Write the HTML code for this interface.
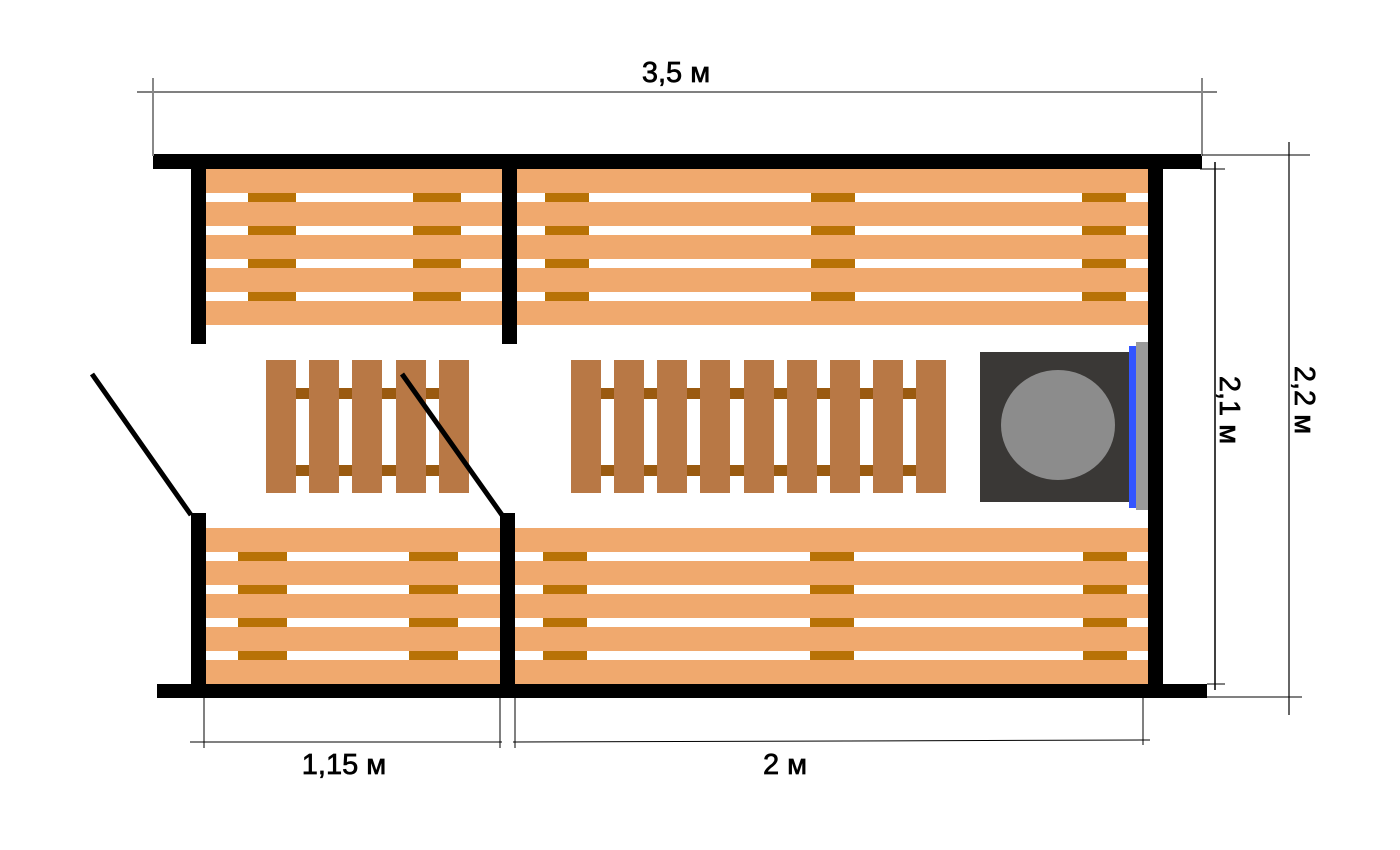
<!DOCTYPE html>
<html><head><meta charset="utf-8"><style>
html,body{margin:0;padding:0;background:#fff;width:1400px;height:850px;overflow:hidden}
text{font-family:"Liberation Sans",sans-serif;font-size:29px;fill:#000;stroke:#000;stroke-width:0.7}
</style></head><body>
<svg width="1400" height="850" viewBox="0 0 1400 850" xmlns="http://www.w3.org/2000/svg">
<g fill="#f0a96e">
<rect x="206" y="169" width="296" height="24"/><rect x="206" y="202" width="296" height="24"/><rect x="206" y="235" width="296" height="24"/><rect x="206" y="268" width="296" height="24"/><rect x="206" y="301" width="296" height="24"/>
<rect x="517" y="169" width="631" height="24"/><rect x="517" y="202" width="631" height="24"/><rect x="517" y="235" width="631" height="24"/><rect x="517" y="268" width="631" height="24"/><rect x="517" y="301" width="631" height="24"/>
<rect x="206" y="528" width="294" height="24"/><rect x="206" y="561" width="294" height="24"/><rect x="206" y="594" width="294" height="24"/><rect x="206" y="627" width="294" height="24"/><rect x="206" y="660" width="294" height="24"/>
<rect x="515" y="528" width="633" height="24"/><rect x="515" y="561" width="633" height="24"/><rect x="515" y="594" width="633" height="24"/><rect x="515" y="627" width="633" height="24"/><rect x="515" y="660" width="633" height="24"/>
</g>
<g fill="#b87206">
<g id="ct"><rect x="248" y="193" width="48" height="9"/><rect x="413" y="193" width="48" height="9"/><rect x="545" y="193" width="44" height="9"/><rect x="811" y="193" width="44" height="9"/><rect x="1082" y="193" width="44" height="9"/></g>
<use href="#ct" y="33"/><use href="#ct" y="66"/><use href="#ct" y="99"/>
<g id="cb"><rect x="238" y="552" width="49" height="9"/><rect x="409" y="552" width="49" height="9"/><rect x="543" y="552" width="44" height="9"/><rect x="810" y="552" width="44" height="9"/><rect x="1083" y="552" width="44" height="9"/></g>
<use href="#cb" y="33"/><use href="#cb" y="66"/><use href="#cb" y="99"/>
</g>
<g fill="#9a5a10">
<rect x="266" y="388" width="203" height="11"/><rect x="266" y="465" width="203" height="11"/>
<rect x="571" y="388" width="374" height="11"/><rect x="571" y="465" width="374" height="11"/>
</g>
<g fill="#b87845">
<rect x="266" y="360" width="30" height="133"/><rect x="309" y="360" width="30" height="133"/><rect x="352" y="360" width="30" height="133"/><rect x="396" y="360" width="30" height="133"/><rect x="439" y="360" width="30" height="133"/>
<rect x="571" y="360" width="30" height="133"/><rect x="614" y="360" width="30" height="133"/><rect x="657" y="360" width="30" height="133"/><rect x="700" y="360" width="30" height="133"/><rect x="744" y="360" width="30" height="133"/><rect x="787" y="360" width="30" height="133"/><rect x="830" y="360" width="30" height="133"/><rect x="873" y="360" width="30" height="133"/><rect x="916" y="360" width="30" height="133"/>
</g>
<rect x="980" y="352" width="149" height="150" fill="#3a3836"/>
<ellipse cx="1058" cy="425" rx="57" ry="55" fill="#8c8c8c"/>
<rect x="1129" y="346" width="7" height="162" fill="#3355ff"/>
<rect x="1136" y="342" width="12" height="168" fill="#9a9a9a"/>
<g fill="#000">
<rect x="153" y="154" width="1049" height="15"/>
<rect x="191" y="169" width="15" height="175"/>
<rect x="502" y="169" width="15" height="175"/>
<rect x="1148" y="169" width="15" height="520"/>
<rect x="157" y="684" width="1050" height="14"/>
<rect x="191" y="513" width="15" height="175"/>
<rect x="500" y="513" width="15" height="175"/>
</g>
<g stroke="#000" stroke-width="5">
<line x1="92" y1="374" x2="191" y2="515"/>
<line x1="402" y1="374" x2="502" y2="515"/>
</g>
<g stroke="#000" stroke-width="1">
<line x1="137" y1="92" x2="1217" y2="92"/>
<line x1="153" y1="78" x2="153" y2="156" stroke="#888" stroke-width="2"/>
<line x1="1202" y1="78" x2="1202" y2="156" stroke="#888" stroke-width="2"/>
<line x1="1215" y1="162" x2="1215" y2="690" stroke-width="1.5"/>
<line x1="1200" y1="169" x2="1225" y2="169"/>
<line x1="1207" y1="684" x2="1225" y2="684"/>
<line x1="1289" y1="142" x2="1289" y2="715" stroke="#666" stroke-width="2"/>
<line x1="1202" y1="155" x2="1310" y2="155"/>
<line x1="1207" y1="697" x2="1302" y2="697"/>
<line x1="190" y1="742" x2="502" y2="742"/>
<line x1="513" y1="742" x2="1150" y2="740"/>
<line x1="204" y1="697" x2="204" y2="748"/>
<line x1="500" y1="697" x2="500" y2="748"/>
<line x1="515" y1="697" x2="515" y2="748"/>
<line x1="1143" y1="697" x2="1143" y2="745"/>
</g>
<text x="676" y="82" text-anchor="middle">3,5 м</text>
<text x="344" y="774" text-anchor="middle">1,15 м</text>
<text x="785" y="774" text-anchor="middle">2 м</text>
<text transform="translate(1220,410) rotate(90)" text-anchor="middle">2,1 м</text>
<text transform="translate(1295,400) rotate(90)" text-anchor="middle">2,2 м</text>
</svg>
</body></html>
